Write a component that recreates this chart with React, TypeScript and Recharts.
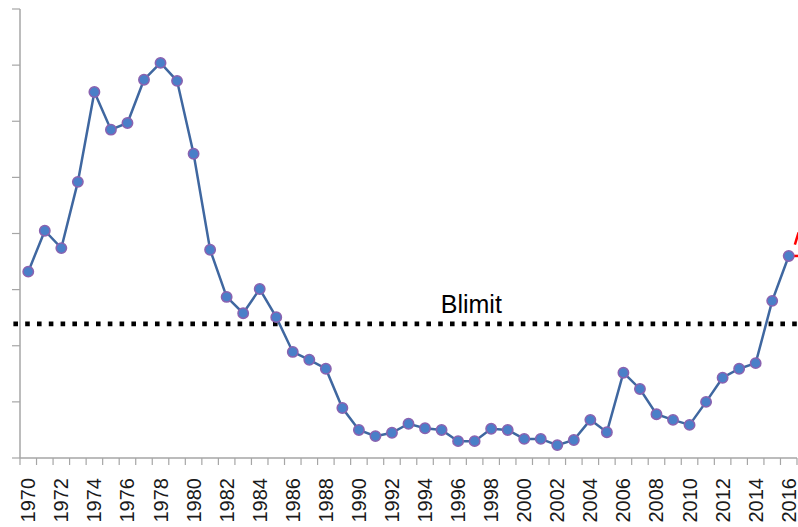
import {
  LineChart,
  Line,
  XAxis,
  YAxis,
  ReferenceLine,
  ReferenceDot,
} from 'recharts';

const years: number[] = [
  1970, 1971, 1972, 1973, 1974, 1975, 1976, 1977, 1978, 1979,
  1980, 1981, 1982, 1983, 1984, 1985, 1986, 1987, 1988, 1989,
  1990, 1991, 1992, 1993, 1994, 1995, 1996, 1997, 1998, 1999,
  2000, 2001, 2002, 2003, 2004, 2005, 2006, 2007, 2008, 2009,
  2010, 2011, 2012, 2013, 2014, 2015, 2016,
];

const ssb: number[] = [
  3.32, 4.05, 3.74, 4.92, 6.52, 5.85, 5.97, 6.74, 7.04, 6.72,
  5.42, 3.71, 2.87, 2.58, 3.01, 2.51, 1.89, 1.75, 1.59, 0.89,
  0.5, 0.39, 0.45, 0.61, 0.53, 0.5, 0.3, 0.3, 0.52, 0.5,
  0.34, 0.34, 0.23, 0.32, 0.68, 0.46, 1.52, 1.23, 0.78, 0.68,
  0.59, 1.0, 1.43, 1.59, 1.69, 2.8, 3.6,
];

const yTicks = [0, 1, 2, 3, 4, 5, 6, 7, 8];
const boundaryTicks = [...years.map((y) => y - 0.5), 2016.5];
const labelTicks = years.filter((y) => y % 2 === 0);

const BLIMIT = 2.39;

const data = years.map((year, i) => ({ year, ssb: ssb[i] }));

const AXIS = '#a6a6a6';
const FONT = '"Liberation Sans", Arial, sans-serif';

function YearTick(props: any) {
  const { x, y, payload } = props;
  const ty = y + 13;
  return (
    <text
      x={x}
      y={ty}
      transform={`rotate(-90 ${x} ${ty})`}
      textAnchor="end"
      dominantBaseline="central"
      fontSize={20}
      fontFamily={FONT}
      fill="#1a1a1a"
    >
      {payload.value}
    </text>
  );
}

export default function App() {
  return (
    <div style={{ position: 'absolute', left: 0, top: 0, background: '#fff' }}>
      <LineChart
        width={798}
        height={527}
        data={data}
        margin={{ top: 9, right: 1, left: 0, bottom: 0 }}
      >
        <XAxis
          xAxisId="a"
          dataKey="year"
          type="number"
          domain={[1969.5, 2016.5]}
          ticks={boundaryTicks}
          interval={0}
          tickFormatter={() => ''}
          tickSize={7}
          height={7}
          axisLine={{ stroke: AXIS, strokeWidth: 1.5 }}
          tickLine={{ stroke: AXIS, strokeWidth: 1.2 }}
          allowDataOverflow
        />
        <XAxis
          xAxisId="b"
          dataKey="year"
          type="number"
          domain={[1969.5, 2016.5]}
          ticks={labelTicks}
          interval={0}
          height={62}
          tickSize={0}
          tickMargin={0}
          axisLine={false}
          tickLine={false}
          tick={<YearTick />}
          allowDataOverflow
        />
        <YAxis
          domain={[0, 8]}
          ticks={yTicks}
          interval={0}
          width={20}
          tickSize={8}
          tickFormatter={() => ''}
          axisLine={{ stroke: AXIS, strokeWidth: 1.5 }}
          tickLine={{ stroke: AXIS, strokeWidth: 1.2 }}
        />
        <ReferenceLine
          xAxisId="a"
          segment={[
            { x: 1969.1, y: BLIMIT },
            { x: 2016.5, y: BLIMIT },
          ]}
          stroke="#000"
          strokeWidth={4.6}
          strokeDasharray="4.6 7.2"
          ifOverflow="visible"
        />
        <ReferenceDot
          xAxisId="a"
          x={1996.8}
          y={BLIMIT}
          r={0}
          stroke="none"
          fill="none"
          ifOverflow="visible"
          label={{
            value: 'Blimit',
            position: 'top',
            offset: 11,
            fontSize: 25,
            fontFamily: FONT,
            fill: '#000',
          }}
        />
        <ReferenceLine
          xAxisId="a"
          segment={[
            { x: 2016, y: 3.6 },
            { x: 2017, y: 3.6 },
          ]}
          stroke="#ff0000"
          strokeWidth={2.5}
          ifOverflow="visible"
        />
        <ReferenceLine
          xAxisId="a"
          segment={[
            { x: 2016.37, y: 3.8 },
            { x: 2016.6, y: 4.02 },
          ]}
          stroke="#ff0000"
          strokeWidth={2.5}
          ifOverflow="visible"
        />
        <Line
          xAxisId="a"
          dataKey="ssb"
          type="linear"
          stroke="#3f67a0"
          strokeWidth={2.5}
          dot={{ r: 5.2, fill: '#4a7fc8', stroke: '#8a62b0', strokeWidth: 1.5 }}
          isAnimationActive={false}
        />
      </LineChart>
    </div>
  );
}
